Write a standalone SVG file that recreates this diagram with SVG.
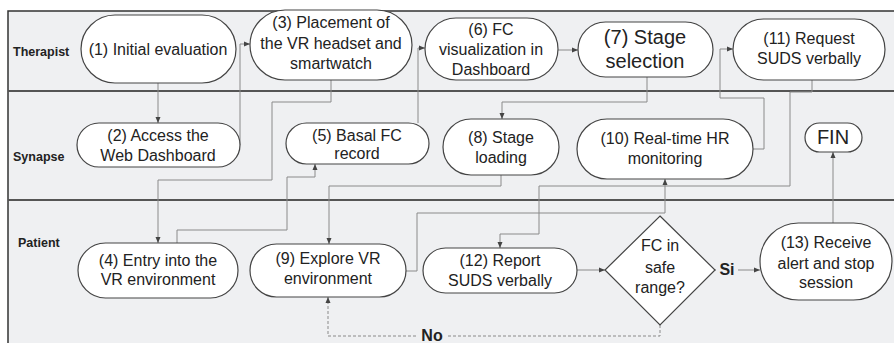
<svg xmlns="http://www.w3.org/2000/svg" width="894" height="343" viewBox="0 0 894 343">
<defs>
<style>
.node{fill:#ffffff;stroke:#444;stroke-width:1.2}
.t{font-family:"Liberation Sans",Arial,sans-serif;font-size:16px;fill:#222;text-anchor:middle}
.big{font-size:20px}
.lane{font-family:"Liberation Sans",Arial,sans-serif;font-size:12.5px;font-weight:bold;fill:#222}
.c{fill:none;stroke:#8a8a8a;stroke-width:1}
.d{stroke-dasharray:3 2}
.lbl{font-family:"Liberation Sans",Arial,sans-serif;font-size:16px;font-weight:bold;fill:#222;text-anchor:middle}
</style>
<marker id="ah" viewBox="0 0 6 6" refX="6" refY="3" markerWidth="6" markerHeight="6" orient="auto" markerUnits="userSpaceOnUse">
<path d="M0,0.5 L6,3 L0,5.5 Z" fill="#444"/>
</marker>
</defs>
<rect x="0" y="0" width="894" height="343" fill="#ffffff"/>
<rect x="8" y="11" width="890" height="340" fill="#eff0f2" stroke="#333" stroke-width="1.5"/>
<line x1="8" y1="91" x2="894" y2="91" stroke="#555" stroke-width="2"/>
<line x1="8" y1="200" x2="894" y2="200" stroke="#555" stroke-width="2"/>
<g id="lanes">
<text class="lane" x="13" y="56">Therapist</text>
<text class="lane" x="13" y="161">Synapse</text>
<text class="lane" x="18" y="247">Patient</text>
</g>
<g id="connectors">
<path class="c" d="M158,83 V123" marker-end="url(#ah)"/>
<path class="c" d="M240,145 V44 H250" marker-end="url(#ah)"/>
<path class="c" d="M331,80 V102 H272 V180 H158 V243" marker-end="url(#ah)"/>
<path class="c" d="M177,243 V230 H287 V177 H315 V164" marker-end="url(#ah)"/>
<path class="c" d="M418,123 V48 H425" marker-end="url(#ah)"/>
<path class="c" d="M558,50 H578" marker-end="url(#ah)"/>
<path class="c" d="M647,77 V102 H502 V119" marker-end="url(#ah)"/>
<path class="c" d="M501,175 V186 H329 V244" marker-end="url(#ah)"/>
<path class="c" d="M406,271 H417 V213 H665 V179" marker-end="url(#ah)"/>
<path class="c" d="M753,149 H764 V98 H720 V49 H733" marker-end="url(#ah)"/>
<path class="c" d="M812,80 V92 H790 V186 H539 V234 H500 V248" marker-end="url(#ah)"/>
<path class="c" d="M577,270 H605" marker-end="url(#ah)"/>
<path class="c" d="M715,270 H760" marker-end="url(#ah)"/>
<path class="c" d="M833,223 V152" marker-end="url(#ah)"/>
<path class="c d" d="M660,325 V336 H328 V297" marker-end="url(#ah)"/>
<rect x="716" y="258" width="22" height="20" fill="#eff0f2"/>
<text class="lbl" x="727" y="275">Si</text>
<rect x="418" y="326" width="30" height="17" fill="#eff0f2"/>
<text class="lbl" x="432" y="341">No</text>
</g>
<g id="n1"><rect class="node" x="81" y="15" width="155" height="68" rx="34"/><text class="t" x="158" y="55">(1) Initial evaluation</text></g>
<g id="n3"><rect class="node" x="250" y="10" width="162" height="70" rx="35"/><text class="t" x="331" y="28">(3) Placement of</text><text class="t" x="331" y="49">the VR headset and</text><text class="t" x="331" y="69">smartwatch</text></g>
<g id="n6"><rect class="node" x="425" y="18" width="133" height="62" rx="31"/><text class="t" x="491" y="35">(6) FC</text><text class="t" x="491" y="55">visualization in</text><text class="t" x="491" y="75">Dashboard</text></g>
<g id="n7"><rect class="node" x="578" y="22" width="135" height="55" rx="27.5"/><text class="t big" x="645" y="44">(7) Stage</text><text class="t big" x="645" y="68">selection</text></g>
<g id="n11"><rect class="node" x="733" y="19" width="152" height="61" rx="30.5"/><text class="t" x="809" y="44">(11) Request</text><text class="t" x="809" y="64">SUDS verbally</text></g>
<g id="n2"><rect class="node" x="77" y="123" width="163" height="44" rx="22"/><text class="t" x="158" y="141">(2) Access the</text><text class="t" x="158" y="161">Web Dashboard</text></g>
<g id="n5"><rect class="node" x="286" y="123" width="143" height="41" rx="20.5"/><text class="t" x="357" y="141">(5) Basal FC</text><text class="t" x="357" y="159">record</text></g>
<g id="n8"><rect class="node" x="443" y="119" width="116" height="56" rx="28"/><text class="t" x="501" y="143">(8) Stage</text><text class="t" x="501" y="163">loading</text></g>
<g id="n10"><rect class="node" x="577" y="119" width="176" height="60" rx="30"/><text class="t" x="665" y="144">(10) Real-time HR</text><text class="t" x="665" y="164">monitoring</text></g>
<g id="fin"><rect class="node" x="805" y="123" width="57" height="29" rx="14.5"/><text class="t big" x="833" y="144">FIN</text></g>
<g id="n4"><rect class="node" x="78" y="243" width="160" height="55" rx="27.5"/><text class="t" x="158" y="266">(4) Entry into the</text><text class="t" x="158" y="285">VR environment</text></g>
<g id="n9"><rect class="node" x="250" y="244" width="156" height="53" rx="26.5"/><text class="t" x="328" y="264">(9) Explore VR</text><text class="t" x="328" y="284">environment</text></g>
<g id="n12"><rect class="node" x="423" y="248" width="154" height="45" rx="22.5"/><text class="t" x="500" y="266">(12) Report</text><text class="t" x="500" y="286">SUDS verbally</text></g>
<g id="dec"><polygon class="node" points="660,216 715,270 660,325 605,270"/><text class="t" x="660" y="251">FC in</text><text class="t" x="660" y="273">safe</text><text class="t" x="660" y="293">range?</text></g>
<g id="n13"><rect class="node" x="760" y="223" width="132" height="77" rx="38.5"/><text class="t" x="826" y="248">(13) Receive</text><text class="t" x="826" y="269">alert and stop</text><text class="t" x="826" y="288">session</text></g>
</svg>
